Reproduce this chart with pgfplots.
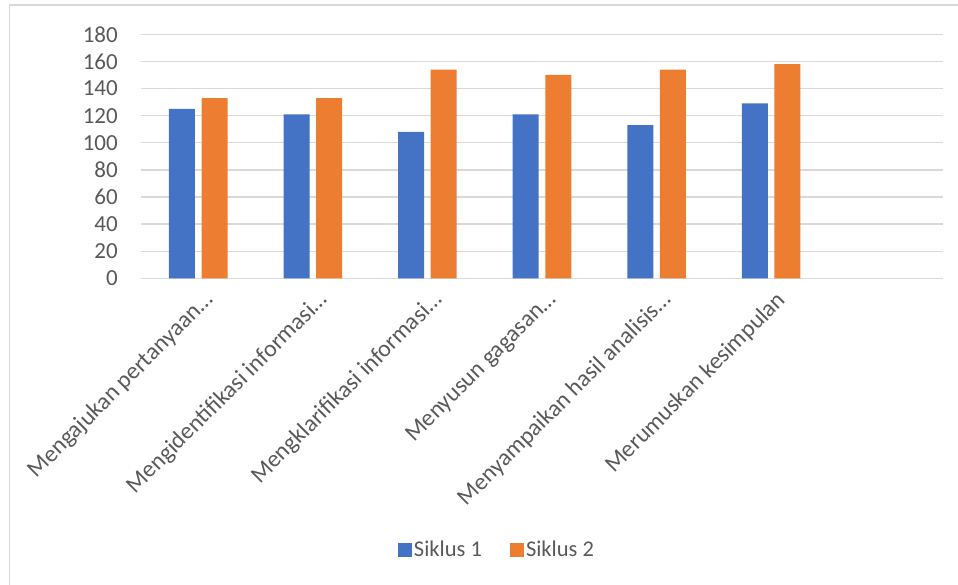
\documentclass[border=0pt]{standalone}
\usepackage{pgfplots}
\pgfplotsset{compat=1.18}
\usepackage{fontspec}
\setmainfont{Carlito}
\definecolor{sblue}{HTML}{4472C4}
\definecolor{sorange}{HTML}{ED7D31}
\definecolor{gridc}{HTML}{D9D9D9}
\definecolor{txt}{HTML}{595959}
\begin{document}
\fontsize{22}{26}\selectfont
\begin{tikzpicture}
\useasboundingbox (0pt,0pt) rectangle (958pt,-585pt);
\draw[gridc, line width=1.3pt] (9.5pt,-600pt) -- (9.5pt,-5pt) -- (970pt,-5pt);
\begin{axis}[
  at={(141pt,-278.3pt)}, anchor=south west,
  scale only axis, width=802pt, height=244pt,
  xmin=-0.5, xmax=6.5, ymin=0, ymax=180,
  ytick={0,20,...,180},
  xtick={0,...,6},
  xticklabels={Mengajukan pertanyaan…, Mengidentifikasi informasi…, Mengklarifikasi informasi…, Menyusun gagasan…, Menyampaikan hasil analisis…, Merumuskan kesimpulan, {}},
  axis line style={draw=none},
  major tick length=0pt,
  ymajorgrids, grid style={gridc, line width=1.3pt},
  ybar=6.6pt, bar width=26pt,
  /pgf/number format/assume math mode=true,
  tick label style={text=txt},
  yticklabel style={font=\fontsize{23}{27}\selectfont, anchor=east, inner sep=0pt, xshift=-23pt},
  xticklabel style={font=\fontsize{23.8}{28}\selectfont, inner sep=0pt, xshift=4pt, yshift=-11pt, rotate=45, anchor=north east},
  legend columns=2,
  legend style={at={(0.4439,-1.1135)}, anchor=center, draw=none, fill=none,
    font=\fontsize{22.5}{26}\selectfont, text=txt,
    /tikz/every even column/.append style={column sep=26pt}},
  legend image code/.code={\fill[#1, draw=none] (0pt,-7pt) rectangle (14pt,7pt);},
]
\addplot[fill=sblue, draw=none] coordinates {(0,125) (1,121) (2,108) (3,121) (4,113) (5,129)};
\addplot[fill=sorange, draw=none] coordinates {(0,133) (1,133) (2,154) (3,150) (4,154) (5,158)};
\legend{Siklus 1, Siklus 2}
\end{axis}
\end{tikzpicture}
\end{document}
